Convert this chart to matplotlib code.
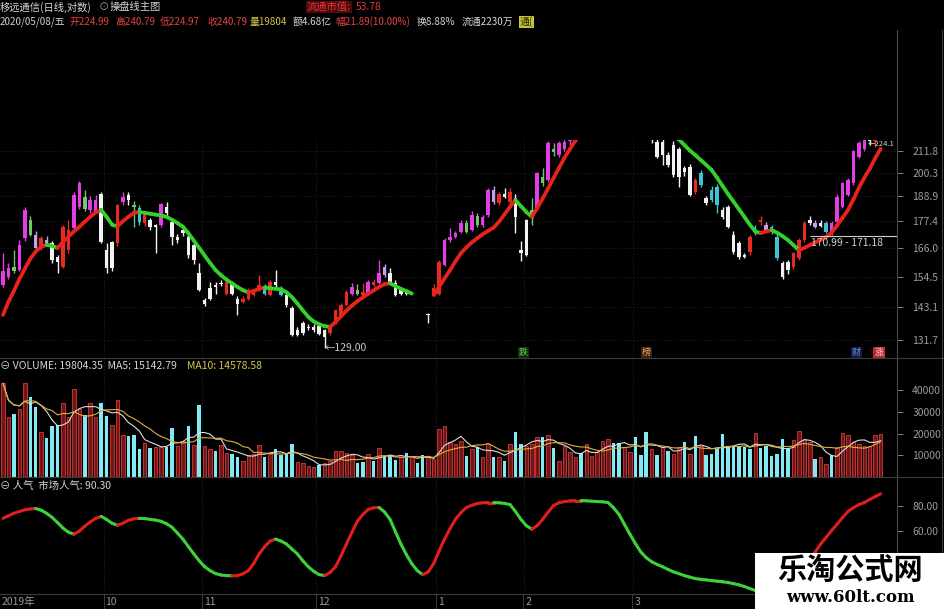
import matplotlib.pyplot as plt
from matplotlib.collections import LineCollection
from matplotlib.patches import Rectangle
from matplotlib.lines import Line2D
from matplotlib.ticker import NullLocator, FixedLocator, FormatStrFormatter
import numpy as np
import pandas as pd

plt.rcParams['font.family'] = ['Noto Sans CJK SC', 'DejaVu Sans']

nan = np.nan

# ---- 日线数据 (移远通信, 2019/09 - 2020/05/08) ----
opens = [151.2, 154.4, 156.6, 157.0, 170.0, 171.5, 171.5, 166.0, 168.0, 168.0,
         162.4, 158.3, 165.1, 174.4, 184.1, 183.1, 182.6, 182.1, 190.2, 165.1,
         168.6, 168.0, 186.4, 189.6, 184.1, 183.3, 176.6, 178.0, 175.8, 175.8,
         184.1, 177.3, 170.8, 173.6, 170.8, 167.2, 155.7, 145.6, 150.0, 151.2,
         152.1, 148.0, 151.9, 146.1, 144.9, 146.1, 147.5, 149.3, 150.6, 147.5,
         152.5, 150.0, 147.5, 142.6, 135.0, 137.3, 136.1, 136.1, 136.3, 135.0,
         133.9, 137.3, 140.2, 143.8, 148.0, 148.0, 147.5, 148.0, 151.2, 152.0,
         155.1, 155.7, 152.0, 149.3, 148.7, nan, nan, nan, 140.7, 148.0,
         148.0, 159.0, 169.3, 170.8, 172.9, 172.9, 173.6, 175.8, 175.8, 180.3,
         192.0, 185.7, 190.2, 186.4, 188.0, 165.0, 178.0, 178.8, 183.3, 195.2,
         196.9, 211.0, 209.6, 212.9, 217.0, 222.0, 228.0, 226.0, 234.0, 240.0,
         236.0, 246.0, 252.0, 248.0, 244.0, 238.0, 241.0, 233.0, 228.0, 221.0,
         216.8, 216.8, 209.6, 215.0, 212.9, 202.7, 203.5, 190.9, 200.2, 188.0,
         192.0, 193.6, 182.6, 184.1, 171.5, 168.0, 163.1, 164.4, 173.6, 177.3,
         175.8, 175.1, 170.8, 159.7, 160.3, 158.3, 161.7, 169.3, 178.0, 176.6,
         176.6, 176.6, 172.2, 177.3, 184.1, 189.6, 195.2, 208.8, 213.0, 221.0,
         217.0, 224.99]
closes = [156.6, 157.7, 158.3, 167.2, 182.6, 178.0, 166.0, 170.0, 169.3, 161.0,
          160.3, 175.1, 173.6, 189.6, 195.2, 188.8, 187.2, 187.2, 168.6, 157.7,
          157.7, 184.9, 188.8, 187.2, 184.9, 177.3, 180.3, 175.1, 175.1, 185.3,
          181.1, 170.8, 169.3, 172.2, 163.1, 161.0, 149.3, 144.3, 146.1, 150.6,
          151.6, 152.5, 148.0, 144.3, 146.1, 149.3, 149.3, 151.2, 148.0, 152.5,
          151.2, 147.5, 143.8, 133.4, 133.4, 133.9, 135.6, 135.0, 133.7, 132.8,
          136.1, 142.0, 143.8, 148.7, 150.6, 149.3, 148.7, 152.5, 152.5, 155.7,
          158.3, 152.0, 147.5, 148.0, 148.0, nan, nan, nan, 140.3, 150.0,
          160.3, 169.3, 170.8, 172.2, 176.6, 176.9, 180.3, 179.8, 179.5, 192.0,
          186.4, 190.2, 188.8, 190.9, 179.5, 164.0, 163.1, 182.6, 200.4, 198.2,
          215.9, 212.9, 215.9, 216.8, 222.0, 228.0, 226.0, 234.0, 240.0, 236.0,
          246.0, 252.0, 248.0, 244.0, 238.0, 241.0, 233.0, 228.0, 224.0, 218.5,
          208.8, 209.6, 204.4, 199.4, 198.2, 201.1, 189.6, 196.9, 194.4, 185.7,
          187.2, 184.9, 179.5, 175.1, 164.4, 162.4, 162.4, 170.8, 172.2, 178.0,
          173.6, 172.9, 161.7, 154.4, 157.0, 163.7, 169.3, 176.6, 176.6, 175.1,
          175.3, 172.9, 176.6, 188.8, 195.2, 196.9, 211.8, 215.9, 219.5, 217.0,
          218.9, 240.79]
highs = [163.7, 160.0, 165.0, 169.3, 184.0, 180.0, 173.0, 171.0, 171.0, 169.0,
         163.0, 176.0, 178.0, 191.0, 196.5, 192.0, 189.0, 189.5, 191.0, 168.0,
         169.0, 185.5, 191.0, 191.0, 187.0, 185.0, 181.0, 179.0, 176.5, 186.0,
         186.4, 178.0, 172.0, 175.0, 172.0, 168.0, 159.7, 146.5, 152.5, 152.5,
         153.0, 153.0, 152.5, 147.0, 147.0, 150.0, 150.0, 155.1, 151.5, 153.0,
         157.0, 151.0, 148.0, 143.5, 136.0, 138.0, 137.0, 137.0, 137.0, 135.5,
         136.5, 142.5, 144.5, 149.5, 152.0, 151.5, 152.0, 153.0, 153.5, 161.0,
         159.5, 158.0, 153.0, 150.0, 149.0, nan, nan, nan, 141.0, 151.5,
         161.0, 170.0, 174.4, 173.0, 178.0, 178.0, 182.0, 181.0, 180.5, 193.0,
         194.0, 191.0, 193.0, 193.0, 190.0, 169.0, 178.5, 188.0, 201.0, 203.0,
         217.0, 216.0, 217.0, 218.0, 224.0, 230.0, 232.0, 236.0, 243.0, 245.0,
         248.0, 256.0, 257.0, 250.0, 246.0, 243.0, 242.0, 235.0, 230.0, 224.0,
         220.0, 222.0, 211.0, 217.0, 214.0, 204.0, 205.0, 198.0, 202.0, 189.0,
         194.0, 195.0, 184.0, 185.0, 173.0, 169.0, 164.0, 171.5, 176.0, 180.0,
         177.0, 176.0, 172.0, 160.5, 161.0, 164.5, 170.0, 177.5, 180.0, 178.0,
         178.0, 177.5, 177.5, 190.0, 196.0, 198.0, 212.5, 217.0, 221.0, 224.1,
         222.0, 240.79]
lows = [150.6, 153.5, 156.0, 156.5, 169.0, 171.0, 165.0, 165.0, 167.0, 160.0,
        155.7, 158.0, 164.0, 174.0, 183.0, 182.0, 181.0, 181.0, 168.0, 155.7,
        156.5, 167.0, 185.0, 185.0, 175.0, 176.0, 175.5, 173.5, 163.7, 175.0,
        180.0, 167.2, 168.0, 171.0, 162.0, 159.5, 149.0, 143.5, 145.5, 148.0,
        151.0, 147.5, 147.5, 140.2, 144.5, 145.5, 147.0, 149.0, 147.5, 147.0,
        150.5, 147.0, 143.0, 133.0, 133.0, 133.5, 135.0, 134.5, 133.5, 129.0,
        133.5, 137.0, 140.0, 143.5, 147.5, 147.5, 147.0, 147.5, 150.5, 151.5,
        154.5, 151.5, 147.0, 147.5, 147.5, nan, nan, nan, 137.3, 147.0,
        147.5, 158.5, 168.5, 170.0, 172.5, 172.5, 173.0, 175.0, 175.0, 179.5,
        185.5, 185.0, 188.0, 186.0, 172.2, 160.7, 162.5, 176.0, 182.5, 194.0,
        196.0, 209.0, 208.5, 212.0, 215.0, 220.0, 224.0, 225.0, 232.0, 234.0,
        235.0, 244.0, 245.0, 240.0, 236.0, 234.0, 230.0, 226.0, 221.0, 216.0,
        208.0, 204.4, 203.5, 198.5, 193.6, 199.0, 189.0, 190.0, 193.5, 185.0,
        186.5, 181.0, 178.5, 174.5, 163.5, 161.5, 161.8, 163.0, 171.5, 176.0,
        173.0, 172.0, 161.0, 153.5, 155.5, 157.5, 161.0, 168.5, 176.0, 174.5,
        174.8, 172.5, 171.5, 176.5, 183.5, 189.0, 194.5, 208.0, 212.0, 215.0,
        214.0, 224.97]
# 操盘线状态: M 强势 R 上涨 W 下跌 C 弱势 G 整理 L 观望
kinds = ("MMGMMGLRLW" "WRRMMGMMWW" "WRMWGCRWWM" "WWWWWWWWWW"
         "WRWWRRRRCR" "WCWWWWWWWW" "RRRRMGRMRM" "LWWWWWWWWR"
         "RMMMMGMGMM" "LRWRWWWGMG" "MGMMMMWMMW" "MMWWWRWWWW"
         "WWWWWWWRCW" "CCWWWWWRCR" "LCCWWRRRWL" "WCMMMMMMMW" "RM")
# 操盘线
trend = [140.3, 145.0, 149.0, 153.5, 157.5, 161.5, 164.5, 166.5, 167.3, 166.8,
         166.0, 168.5, 170.8, 173.0, 175.0, 177.3, 179.5, 181.5, 182.6, 179.5,
         176.0, 175.2, 177.5, 179.5, 181.2, 181.7, 181.3, 180.9, 180.5, 180.1,
         179.5, 178.2, 176.7, 175.1, 172.3, 169.1, 166.0, 162.8, 159.8, 157.0,
         155.0, 153.3, 151.9, 150.5, 149.3, 148.4, 149.0, 149.8, 150.3, 150.0,
         149.8, 149.6, 148.5, 146.7, 144.4, 141.9, 139.6, 138.0, 137.0, 136.4,
         136.1, 137.8, 139.8, 141.8, 143.6, 145.2, 146.6, 148.0, 149.2, 150.5,
         151.6, 151.9, 150.8, 149.8, 148.9, 148.0, nan, nan, nan, 147.5,
         150.5, 153.8, 157.0, 160.5, 163.8, 166.2, 168.3, 170.1, 171.8, 173.3,
         174.7, 177.3, 180.6, 184.0, 187.2, 184.4, 181.7, 179.5, 183.5, 188.0,
         192.8, 197.8, 203.0, 208.2, 212.8, 217.3, 221.5, 225.5, 229.0, 232.0,
         235.0, 237.5, 239.0, 239.8, 238.5, 236.5, 234.0, 231.0, 228.0, 225.5,
         223.5, 222.0, 220.5, 219.5, 218.0, 215.0, 212.0, 209.6, 207.0, 204.5,
         201.9, 198.0, 194.0, 190.1, 186.5, 183.0, 179.5, 176.0, 173.0, 172.3,
         173.0, 173.6, 172.5, 171.0, 169.3, 167.2, 165.1, 166.0, 167.2, 168.3,
         169.5, 170.6, 172.5, 175.6, 179.0, 182.6, 187.5, 193.0, 198.0, 202.5,
         208.0, 213.0]

# 成交量
volume = [43200, 27700, 28900, 31500, 43500, 37000, 32300, 20700, 18000, 23300,
          23800, 34200, 27700, 40400, 31500, 28400, 34200, 27700, 34200, 28000,
          23800, 35700, 19200, 18900, 19600, 12900, 15600, 13400, 14000, 13700,
          14000, 22700, 14300, 16800, 23300, 14800, 33400, 14300, 12900, 11900,
          14800, 10900, 10600, 9400, 7500, 10200, 10600, 14800, 9400, 10600,
          12900, 10200, 10500, 15000, 6700, 6300, 5200, 4400, 5700, 6300,
          7500, 11900, 11900, 10900, 10200, 6300, 6700, 10600, 7500, 13300,
          9100, 10200, 7800, 9100, 10900, 9100, 6300, 10200, 9100, 8400,
          22200, 23400, 16000, 15300, 16800, 9900, 12900, 14000, 9100, 15300,
          9100, 9100, 7500, 15300, 20700, 15300, 14500, 15300, 18400, 18400,
          19600, 13300, 7500, 14500, 11400, 9100, 10900, 15300, 9900, 11400,
          16800, 17600, 15600, 15600, 13700, 11400, 18400, 10300, 20700, 12900,
          10300, 13700, 12200, 10600, 13700, 16000, 10600, 19100, 14500, 10300,
          10600, 12900, 19900, 13700, 14500, 14500, 13700, 12900, 20200, 13300,
          14500, 9900, 10600, 17600, 12900, 17100, 21000, 17600, 16000, 8300,
          9100, 6000, 10300, 13700, 20200, 19600, 16000, 15300, 14500, 14500,
          19600, 19804]
vol_dir = ("rrcrrccrcc" "crrrrcrrcc" "rrrcccrcrr" "ccrrcrcrrc"
           "rrccrrrrcr" "ccccrrrrcr" "rrrrrccrcr" "cccrcrccrr"
           "rrrrrcrcrr" "crcrccrrrc" "rcrrrrcrrr" "rrccrrcccr"
           "crcrrcrcrc" "ccccccccrc" "cccccrrrrc" "rrcrrrrrrr" "rr")

# 市场人气
renqi = [70.4, 72.5, 74.5, 76.0, 77.3, 78.0, 78.4, 77.0, 74.5, 71.2,
         67.0, 62.5, 59.2, 57.6, 60.0, 64.0, 67.5, 70.4, 72.0, 69.5,
         66.4, 64.8, 66.5, 68.8, 70.0, 70.4, 70.2, 69.6, 69.0, 68.0,
         66.0, 63.2, 58.5, 53.6, 47.5, 41.6, 36.0, 31.2, 28.0, 25.6,
         24.5, 24.0, 23.8, 24.0, 25.5, 28.0, 34.0, 41.6, 47.5, 52.0,
         53.6, 52.0, 49.6, 45.5, 41.6, 36.0, 31.2, 27.5, 24.8, 24.0,
         26.5, 31.2, 40.0, 49.6, 59.0, 68.0, 73.5, 77.6, 79.0, 79.2,
         75.5, 69.6, 59.5, 49.6, 41.0, 33.6, 28.0, 24.8, 27.0, 33.6,
         44.0, 53.6, 62.0, 69.6, 75.0, 79.2, 81.0, 82.4, 83.0, 83.2,
         83.2, 83.0, 82.5, 81.6, 76.0, 69.6, 64.5, 61.6, 64.5, 69.6,
         75.5, 80.8, 83.0, 84.0, 84.5, 84.8, 84.8, 84.6, 84.3, 84.0,
         83.8, 83.2, 79.0, 73.6, 65.5, 57.6, 50.0, 43.2, 38.5, 35.2,
         33.0, 31.2, 29.0, 27.0, 25.6, 24.0, 22.8, 21.6, 21.0, 20.5,
         20.0, 19.5, 19.0, 18.4, 17.5, 16.5, 15.2, 13.5, 12.0, 11.0,
         10.5, 10.0, 10.0, 10.5, 12.0, 15.0, 20.0, 26.0, 33.6, 43.2,
         49.6, 55.0, 60.5, 65.6, 71.0, 76.0, 79.0, 81.5, 83.2, 85.7,
         88.0, 90.3]

month_pos = [0, 19, 37, 58, 80, 96, 116]
month_lab = ['2019年', '10', '11', '12', '1', '2', '3']
price_ticks = [131.7, 143.1, 154.5, 166.0, 177.4, 188.9, 200.3, 211.8]
vol_ticks = [10000, 20000, 30000, 40000]
rq_ticks = [60, 80]

# ---- 画布 ----
W, H = 945.0, 609.0
fig = plt.figure(figsize=(9.45, 6.09), dpi=100, facecolor='black')

n = len(closes)
x = np.arange(n)
AXIS_R = 897  # 右侧坐标轴位置(像素)


def panel(top, bottom):
    ax = fig.add_axes([0, 1 - bottom / H, AXIS_R / W, (bottom - top) / H])
    ax.set_facecolor('black')
    for s in ['top', 'left', 'bottom']:
        ax.spines[s].set_visible(False)
    ax.spines['right'].set_color('#4a4a4a')
    ax.set_xlim(-0.55, 164.0)
    ax.yaxis.tick_right()
    ax.tick_params(axis='y', colors='#9c9c9c', labelsize=7.5, length=4,
                   width=0.6, pad=7)
    ax.tick_params(axis='x', bottom=False, labelbottom=False)
    for p in month_pos[1:]:
        ax.axvline(p - 0.5, color='#1e1e1e', lw=0.6, ls=(0, (2, 2)), zorder=0)
    return ax


def colored_line(ax, vals, lw, up='#e8231c', down='#33d12a'):
    v = np.array(vals, dtype=float)
    segs, cols = [], []
    for i in range(len(v) - 1):
        if np.isnan(v[i]) or np.isnan(v[i + 1]):
            continue
        segs.append([(x[i], v[i]), (x[i + 1], v[i + 1])])
        cols.append(up if v[i + 1] >= v[i] else down)
    ax.add_collection(LineCollection(segs, colors=cols, linewidths=lw,
                                     capstyle='round', joinstyle='round', zorder=3))


# ---- 主图 K线 ----
ax1 = panel(140, 358)
ax1.set_yscale('log')
ax1.set_ylim(125.9, 217.7)
ax1.yaxis.set_minor_locator(NullLocator())
ax1.yaxis.set_major_locator(FixedLocator(price_ticks))
ax1.yaxis.set_major_formatter(FormatStrFormatter('%.1f'))
for t in price_ticks:
    ax1.axhline(t, color='#181818', lw=0.6, ls=(0, (2, 2)), zorder=0)

kind_col = {'M': '#e23ee6', 'R': '#ea2a22', 'W': '#f2f2f2',
            'C': '#3fc3d2', 'G': '#74c46e', 'L': '#c9a0e8'}
o = np.array(opens, float)
c = np.array(closes, float)
h = np.array(highs, float)
l = np.array(lows, float)
ok = ~np.isnan(c)
cols = np.array([kind_col[k] for k in kinds])
lo_b = np.minimum(o, c)
hi_b = np.maximum(np.maximum(o, c), lo_b * 1.003)
ax1.vlines(x[ok], l[ok], h[ok], colors=cols[ok], lw=1.0, zorder=2)
ax1.bar(x[ok], hi_b[ok] - lo_b[ok], bottom=lo_b[ok], width=0.64,
        color=cols[ok], linewidth=0, zorder=2)
colored_line(ax1, trend, 2.7)

ax1.text(59, 129.0, '←129.00', color='#c8c8c8', fontsize=7.5,
         va='center', ha='left', zorder=5)
ax1.hlines(171.18, 148, 164, color='#d0d0d0', lw=0.8, zorder=4)
ax1.text(148.3, 170.2, '170.99 - 171.18', color='#d0d0d0', fontsize=7.5,
         va='top', ha='left', zorder=5)
ax1.text(158.6, 215.6, '←224.1', color='#d0d0d0', fontsize=5.5,
         va='center', ha='left', zorder=5)
for xi, s, fg, bg in [(95.5, '跌', '#5fd35a', '#102a10'), (118, '榜', '#f0a070', '#3a2010'),
                      (156.5, '财', '#6f8ff0', '#101a3a'), (160.7, '涨', '#ffd0d0', '#b82828')]:
    ax1.text(xi, 127.6, s, color=fg, fontsize=6.5, ha='center', va='center',
             bbox=dict(boxstyle='square,pad=0.12', fc=bg, ec='none'), zorder=6)

# ---- 成交量 ----
ax2 = panel(358, 477)
ax2.set_ylim(0, 54900)
ax2.yaxis.set_major_locator(FixedLocator(vol_ticks))
ax2.yaxis.set_major_formatter(FormatStrFormatter('%d'))
vol = np.array(volume, float)
up = np.array([d == 'r' for d in vol_dir])
ax2.bar(x[up], vol[up], width=0.64, color='#701616', edgecolor='#c03232',
        linewidth=0.7, zorder=2)
ax2.bar(x[~up], vol[~up], width=0.64, color='#82eaf5', linewidth=0, zorder=2)
vs = pd.Series(vol)
ax2.plot(x, vs.rolling(5, min_periods=1).mean(), color='#dcdcdc', lw=0.8, zorder=3)
ax2.plot(x, vs.rolling(10, min_periods=1).mean(), color='#dcb040', lw=0.8, zorder=3)

# ---- 市场人气 ----
ax3 = panel(477, 594)
ax3.set_ylim(9.1, 103.9)
ax3.yaxis.set_major_locator(FixedLocator(rq_ticks))
ax3.yaxis.set_major_formatter(FormatStrFormatter('%.2f'))
colored_line(ax3, renqi, 2.2, up='#e01e1e', down='#3ed23a')


# ---- 分隔线 / 日期 ----
def fline(x0, y0, x1, y1, col='#3c3c3c', lw=0.8):
    fig.add_artist(Line2D([x0 / W, x1 / W], [1 - y0 / H, 1 - y1 / H],
                          color=col, lw=lw))


for yy in (358, 477, 594):
    fline(0, yy, W, yy)
fline(942, 30, 942, 609)
fline(AXIS_R, 30, AXIS_R, 140, '#4a4a4a')

for p, s in zip(month_pos, month_lab):
    xp = 5.45 * p
    if p > 0:
        fline(xp, 594, xp, 609, '#444444', 0.6)
    fig.text((xp + 2) / W, 1 - 602 / H, s, color='#9c9c9c', fontsize=7.5,
             va='center', ha='left')


# ---- 标题栏 ----
def ftext(x0, y0, s, col, size=7.4, **kw):
    fig.text(x0 / W, 1 - y0 / H, s, color=col, fontsize=size,
             va='center', ha='left', **kw)


ftext(0, 7, '移远通信(日线,对数)', '#d6d6d6')
ftext(99, 7, '⊙', '#a0a0a0')
ftext(110, 7, '操盘线主图', '#d6d6d6')
ftext(307, 7, '流通市值:', '#f03030',
      bbox=dict(boxstyle='square,pad=0.1', fc='#4a0c0c', ec='none'))
ftext(356, 7, '53.78', '#e83838')

row2 = [(0, '2020/05/08/五', '#cfcfcf'), (69, '开224.99', '#e84040'),
        (115, '高240.79', '#e84040'), (160, '低224.97', '#e84040'),
        (207, '收240.79', '#e84040'), (250, '量19804', '#d8c44a'),
        (293, '额4.68亿', '#d6d6d6'), (335, '幅21.89(10.00%)', '#e84040'),
        (417, '换8.88%', '#d6d6d6'), (462, '流通2230万', '#d6d6d6')]
for x0, s, col in row2:
    ftext(x0, 22, s, col, 7.1)
ftext(520, 22, '通(', '#202000', 7.1,
      bbox=dict(boxstyle='square,pad=0.1', fc='#c8c43c', ec='none'))

ftext(0, 366, '⊖ VOLUME: 19804.35  MA5: 15142.79', '#d6d6d6', 7.5)
ftext(187, 366, 'MA10: 14578.58', '#d8c44a', 7.5)
ftext(0, 486, '⊖ 人气  市场人气: 90.30', '#d6d6d6', 7.5)

# ---- 水印 ----
fig.add_artist(Rectangle((755 / W, 0), 190 / W, 56 / H, transform=fig.transFigure,
                         facecolor='white', edgecolor='none', zorder=10))
fig.text(850 / W, 1 - 570 / H, '乐淘公式网', color='black', fontsize=21,
         fontweight='bold', ha='center', va='center', zorder=11)
fig.text(850 / W, 1 - 597 / H, 'www.60lt.com', color='black', fontsize=12,
         fontweight='bold', family='DejaVu Serif', ha='center', va='center', zorder=11)

plt.savefig('out.png', dpi=100, facecolor='black')
